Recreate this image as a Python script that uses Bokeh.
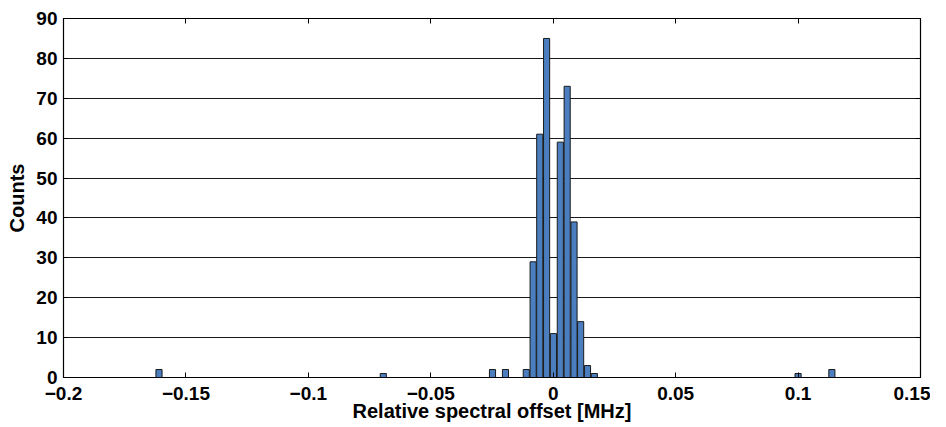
from bokeh.plotting import figure
from bokeh.models import Range1d, FixedTicker, LinearAxis, CustomJSTickFormatter
from bokeh.embed import file_html
from bokeh.resources import INLINE

# Histogram bin centres (MHz) and counts
bin_centers = [-0.1610, -0.0694, -0.0248, -0.0195, -0.0110, -0.0082, -0.0055,
               -0.0027, 0.0001, 0.0029, 0.0057, 0.0085, 0.0112, 0.0140, 0.0168,
               0.1000, 0.1138]
counts = [2, 1, 2, 2, 2, 29, 61, 85, 11, 59, 73, 39, 14, 3, 1, 1, 2]

x_ticks = [-0.2, -0.15, -0.1, -0.05, 0.0, 0.05, 0.1, 0.15]
y_ticks = [0, 10, 20, 30, 40, 50, 60, 70, 80, 90]

FONT = "Liberation Sans"

p = figure(width=930, height=425, output_backend="svg", toolbar_location=None,
           x_range=Range1d(-0.2, 0.15), y_range=Range1d(0, 90),
           min_border_left=63, min_border_right=10, min_border_top=18, min_border_bottom=48)
p.background_fill_color = "white"
p.border_fill_color = "white"
p.outline_line_color = "black"
p.outline_line_width = 1.2

p.vbar(x=bin_centers, top=counts, width=0.0025, fill_color="#4a7ebf",
       line_color="#1a1a1a", line_width=1)

fmt = CustomJSTickFormatter(code="""
var v = Math.round(tick*100)/100;
var s = v.toString();
return s.replace('-', '\u2212');
""")
blank = CustomJSTickFormatter(code="return '';")

xa = p.xaxis[0]
xa.ticker = FixedTicker(ticks=x_ticks)
xa.formatter = fmt
ya = p.yaxis[0]
ya.ticker = FixedTicker(ticks=y_ticks)

for ax in (xa, ya):
    ax.major_tick_in = 5
    ax.major_tick_out = 0
    ax.minor_tick_line_color = None
    ax.axis_line_color = "black"
    ax.major_tick_line_color = "black"
    ax.major_label_text_font = FONT
    ax.major_label_text_font_style = "bold"
    ax.major_label_text_font_size = "19px"
    ax.major_label_text_color = "black"
    ax.axis_label_text_font = FONT
    ax.axis_label_text_font_style = "bold"
    ax.axis_label_text_font_size = "20px"
    ax.axis_label_text_color = "black"

xa.axis_label = "Relative spectral offset [MHz]"
xa.axis_label_standoff = -3
xa.major_label_standoff = 9
ya.axis_label = "Counts"
ya.axis_label_standoff = 5
ya.major_label_standoff = 6

top = LinearAxis(ticker=FixedTicker(ticks=x_ticks), formatter=blank,
                 major_tick_in=5, major_tick_out=0,
                 minor_tick_line_color=None, axis_line_color="black")
p.add_layout(top, "above")
right = LinearAxis(ticker=FixedTicker(ticks=y_ticks), formatter=blank,
                   major_tick_in=5, major_tick_out=0,
                   minor_tick_line_color=None, axis_line_color="black")
p.add_layout(right, "right")

p.xgrid.grid_line_color = None
p.ygrid.ticker = FixedTicker(ticks=y_ticks)
p.ygrid.grid_line_color = "#1a1a1a"
p.ygrid.grid_line_width = 1

open("out.html", "w").write(file_html(p, INLINE))
